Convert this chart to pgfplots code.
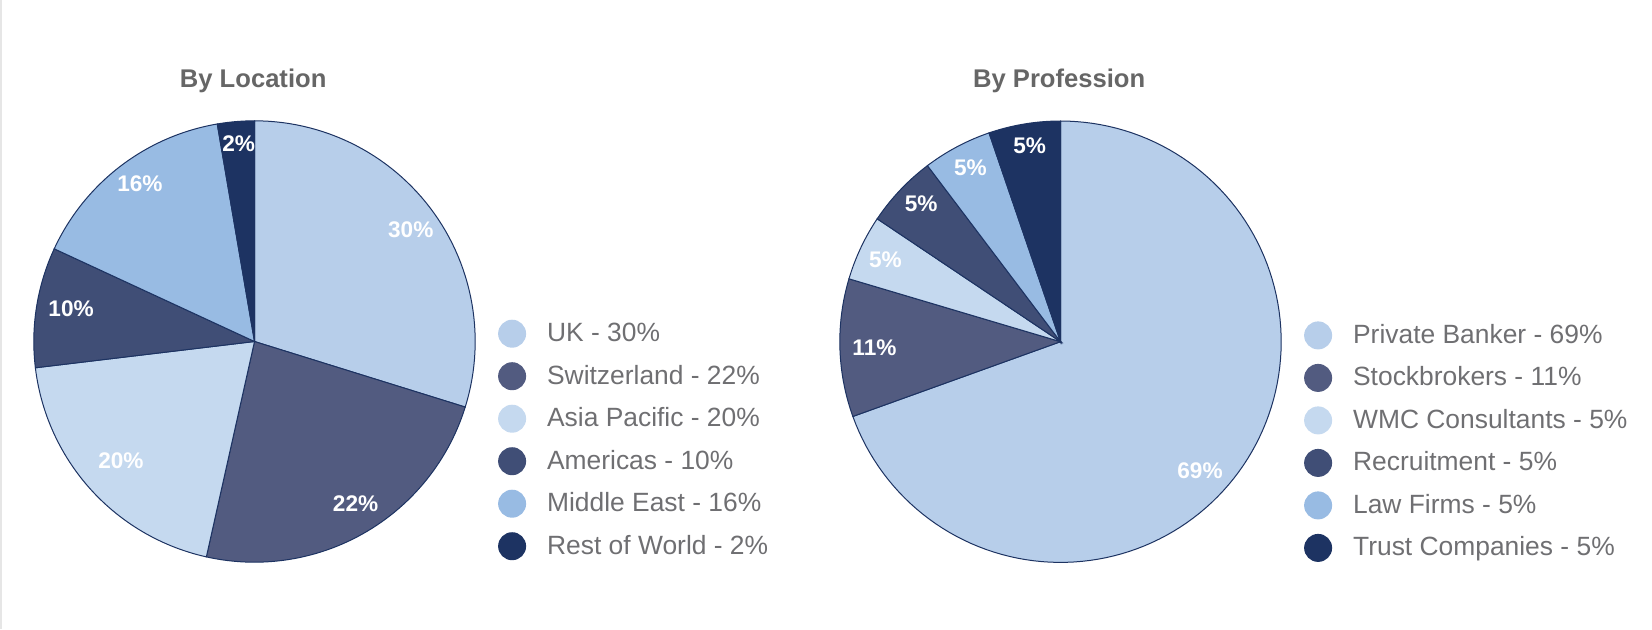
\documentclass[border=0pt]{standalone}
\usepackage{pgfplots}
\pgfplotsset{compat=1.18}
\usepackage{fontspec}
\setmainfont{Liberation Sans}
\definecolor{cUK}{HTML}{B7CEEA}
\definecolor{cSW}{HTML}{525B80}
\definecolor{cAP}{HTML}{C5D9EF}
\definecolor{cAM}{HTML}{404E76}
\definecolor{cME}{HTML}{98BBE3}
\definecolor{cRW}{HTML}{1D3362}
\definecolor{border}{HTML}{1D3362}
\definecolor{titlegray}{HTML}{666666}
\definecolor{leggray}{HTML}{6F6F72}
\definecolor{edge}{HTML}{E6E6E6}
\pgfplotsset{
  pie/.style={scale only axis, width=220.7pt, height=220.7pt,
    xmin=-1, xmax=1, ymin=-1, ymax=1, hide axis, clip=false,
    legend image code/.code={\fill[##1, draw=none] (7pt,0pt) circle (7pt);},
    legend cell align=left,
    legend style={anchor=north west, draw=none, fill=none, inner sep=0pt,
      row sep=7.25pt, column sep=10.5pt,
      font=\fontsize{13.2pt}{15pt}\selectfont, text=leggray,
      nodes={inner sep=0pt}}},
  slice/.style={draw=border, line width=0.5pt, samples=60, forget plot},
}
\newcommand{\lbl}[2]{\node[anchor=base, yshift=-4.2pt, text=white,
  font=\fontsize{11.3pt}{13pt}\selectfont\bfseries] at (axis cs:#1) {#2};}
\begin{document}
\begin{tikzpicture}
\path[use as bounding box] (0,0) rectangle (826pt,314.5pt);
\fill[edge] (0,0) rectangle (1pt,314.5pt);
% ---------- By Location (slices as cumulative percent start:end) ----------
\begin{axis}[pie, at={(127.25pt,143.75pt)}, anchor=center,
  legend style={at={(1.051,0.5503)}}]
\addplot[slice, fill=cUK, domain=0:29.8] ({sin(3.6*x)},{cos(3.6*x)}) -- (axis cs:0,0) -- cycle;
\addplot[slice, fill=cSW, domain=29.8:53.5] ({sin(3.6*x)},{cos(3.6*x)}) -- (axis cs:0,0) -- cycle;
\addplot[slice, fill=cAP, domain=53.5:73.1] ({sin(3.6*x)},{cos(3.6*x)}) -- (axis cs:0,0) -- cycle;
\addplot[slice, fill=cAM, domain=73.1:81.9] ({sin(3.6*x)},{cos(3.6*x)}) -- (axis cs:0,0) -- cycle;
\addplot[slice, fill=cME, domain=81.9:97.3] ({sin(3.6*x)},{cos(3.6*x)}) -- (axis cs:0,0) -- cycle;
\addplot[slice, fill=cRW, domain=97.3:100] ({sin(3.6*x)},{cos(3.6*x)}) -- (axis cs:0,0) -- cycle;
\lbl{0.708,0.511}{30\%}
\lbl{0.458,-0.734}{22\%}
\lbl{-0.605,-0.537}{20\%}
\lbl{-0.831,0.150}{10\%}
\lbl{-0.519,0.716}{16\%}
\lbl{-0.072,0.897}{2\%}
\node[anchor=base, yshift=16.55pt, text=titlegray,
  font=\fontsize{12.8pt}{15pt}\selectfont\bfseries] at (rel axis cs:0.497,1) {By Location};
\addlegendimage{fill=cUK}\addlegendentry{UK - 30\%}
\addlegendimage{fill=cSW}\addlegendentry{Switzerland - 22\%}
\addlegendimage{fill=cAP}\addlegendentry{Asia Pacific - 20\%}
\addlegendimage{fill=cAM}\addlegendentry{Americas - 10\%}
\addlegendimage{fill=cME}\addlegendentry{Middle East - 16\%}
\addlegendimage{fill=cRW}\addlegendentry{Rest of World - 2\%}
\end{axis}
% ---------- By Profession ----------
\begin{axis}[pie, at={(530.25pt,143.65pt)}, anchor=center,
  legend style={at={(1.051,0.5469)}}]
\addplot[slice, fill=cUK, domain=0:69.5, samples=120] ({sin(3.6*x)},{cos(3.6*x)}) -- (axis cs:0,0) -- cycle;
\addplot[slice, fill=cSW, domain=69.5:79.6] ({sin(3.6*x)},{cos(3.6*x)}) -- (axis cs:0,0) -- cycle;
\addplot[slice, fill=cAP, domain=79.6:84.4] ({sin(3.6*x)},{cos(3.6*x)}) -- (axis cs:0,0) -- cycle;
\addplot[slice, fill=cAM, domain=84.4:89.7] ({sin(3.6*x)},{cos(3.6*x)}) -- (axis cs:0,0) -- cycle;
\addplot[slice, fill=cME, domain=89.7:94.75] ({sin(3.6*x)},{cos(3.6*x)}) -- (axis cs:0,0) -- cycle;
\addplot[slice, fill=cRW, domain=94.75:100] ({sin(3.6*x)},{cos(3.6*x)}) -- (axis cs:0,0) -- cycle;
\lbl{0.632,-0.581}{69\%}
\lbl{-0.843,-0.025}{11\%}
\lbl{-0.793,0.376}{5\%}
\lbl{-0.631,0.627}{5\%}
\lbl{-0.408,0.793}{5\%}
\lbl{-0.140,0.891}{5\%}
\node[anchor=base, yshift=16.55pt, text=titlegray,
  font=\fontsize{12.8pt}{15pt}\selectfont\bfseries] at (rel axis cs:0.497,1) {By Profession};
\addlegendimage{fill=cUK}\addlegendentry{Private Banker - 69\%}
\addlegendimage{fill=cSW}\addlegendentry{Stockbrokers - 11\%}
\addlegendimage{fill=cAP}\addlegendentry{WMC Consultants - 5\%}
\addlegendimage{fill=cAM}\addlegendentry{Recruitment - 5\%}
\addlegendimage{fill=cME}\addlegendentry{Law Firms - 5\%}
\addlegendimage{fill=cRW}\addlegendentry{Trust Companies - 5\%}
\end{axis}
\end{tikzpicture}
\end{document}
